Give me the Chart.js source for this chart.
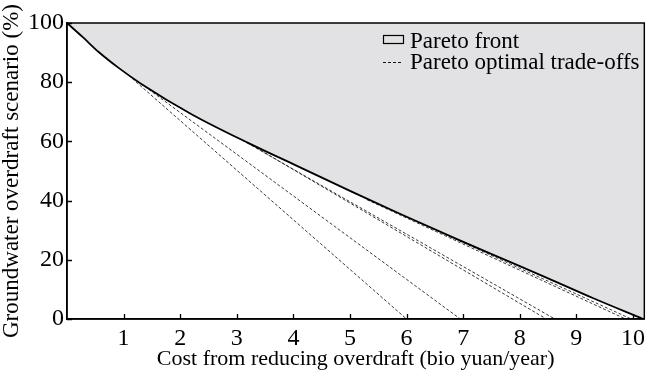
<!DOCTYPE html>
<html>
<head>
<meta charset="utf-8">
<script src="https://cdn.jsdelivr.net/npm/chart.js@4.4.1/dist/chart.umd.min.js"></script>
<style>
html,body{margin:0;padding:0;background:#fff;}
#wrap{width:650px;height:375px;}
</style>
</head>
<body>
<div id="wrap"><canvas id="c" width="650" height="375"></canvas></div>
<script>
// ---- data ----
const frontX = [0, 0.28, 0.56, 0.9, 1.3, 2.2, 3.2, 4.1, 5.0, 5.9, 6.9, 7.7, 8.47, 9.3, 10.18];
const frontY = [100, 95.2, 90.2, 85.0, 79.6, 69.2, 59.5, 51.4, 43.3, 35.4, 26.9, 20.3, 14.0, 7.0, 0];

const tradeStartX = [0.82, 1.3, 3.2, 3.1, 5.3, 5.0];
const tradeStartY = [86.8, 79.6, 59.5, 60.4, 40.3, 43.2];
const tradeEndX   = [6.0, 6.95, 8.47, 8.62, 9.87, 9.97];

const xTickValues = [1,2,3,4,5,6,7,8,9,10];
const yTickValues = [0,20,40,60,80,100];

const legendLabels = ["Pareto front", "Pareto optimal trade-offs"];
const xTitle = "Cost from reducing overdraft (bio yuan/year)";
const yTitle = "Groundwater overdraft scenario (%)";

const FONT = "'Liberation Serif', 'Times New Roman', serif";

// ---- datasets ----
const datasets = [];
tradeStartX.forEach((sx, i) => {
  datasets.push({
    label: 'trade' + i,
    data: [{x: sx, y: tradeStartY[i]}, {x: tradeEndX[i], y: 0}],
    borderColor: '#222',
    borderWidth: 0.9,
    borderDash: [3, 2],
    pointRadius: 0,
    fill: false,
    tension: 0,
    order: 2
  });
});
datasets.push({
  label: 'front',
  data: frontX.map((x, i) => ({x, y: frontY[i]})),
  borderColor: '#000',
  borderWidth: 1.8,
  backgroundColor: '#e2e1e3',
  fill: 'end',
  pointRadius: 0,
  cubicInterpolationMode: 'monotone',
  order: 1
});

// ---- plugins ----
const framePlugin = {
  id: 'frame',
  afterDatasetsDraw(chart) {
    const {ctx, chartArea: a, scales} = chart;
    ctx.save();
    ctx.strokeStyle = '#000';
    ctx.lineWidth = 1.5;
    ctx.strokeRect(a.left, a.top, a.right - a.left, a.bottom - a.top);
    ctx.lineWidth = 1.3;
    ctx.beginPath();
    xTickValues.forEach(v => {
      const px = Math.round(scales.x.getPixelForValue(v)) + 0.5;
      ctx.moveTo(px, a.bottom); ctx.lineTo(px, a.bottom - 5);
    });
    yTickValues.forEach(v => {
      const py = Math.round(scales.y.getPixelForValue(v)) + 0.5;
      ctx.moveTo(a.left, py); ctx.lineTo(a.left + 5, py);
    });
    ctx.stroke();

    // legend
    const lx = 383, b1 = 48, b2 = 68.5;
    ctx.font = '23px ' + FONT;
    ctx.fillStyle = '#000';
    ctx.textBaseline = 'alphabetic';
    ctx.lineWidth = 1.2;
    ctx.strokeRect(lx + 0.5, 35.5, 20, 8);
    ctx.fillText(legendLabels[0], lx + 27, b1);
    ctx.lineWidth = 0.9;
    ctx.setLineDash([3, 2]);
    ctx.beginPath();
    ctx.moveTo(lx, 62.5); ctx.lineTo(lx + 20, 62.5);
    ctx.stroke();
    ctx.setLineDash([]);
    ctx.fillText(legendLabels[1], lx + 27, b2);
    ctx.restore();
  }
};

new Chart(document.getElementById('c'), {
  type: 'line',
  data: {datasets},
  options: {
    responsive: false,
    animation: false,
    layout: {padding: {top: 23, right: 2, left: 0, bottom: 0}},
    plugins: {legend: {display: false}, tooltip: {enabled: false}},
    scales: {
      x: {
        type: 'linear',
        min: 0, max: 10.2,
        afterBuildTicks(s) { s.ticks = xTickValues.map(v => ({value: v})); },
        afterFit(s) { s.height = 56; },
        grid: {display: false, drawTicks: false},
        border: {display: true, color: '#000', width: 1.5},
        ticks: {color: '#000', font: {family: FONT, size: 24}, padding: 5, maxRotation: 0, autoSkip: false},
        title: {display: true, text: xTitle, color: '#000', font: {family: FONT, size: 22}, padding: {top: 0, bottom: 3}}
      },
      y: {
        type: 'linear',
        min: 0, max: 100,
        afterBuildTicks(s) { s.ticks = yTickValues.map(v => ({value: v})); },
        afterFit(s) { s.width = 67; },
        grid: {display: false, drawTicks: false},
        border: {display: true, color: '#000', width: 1.5},
        ticks: {color: '#000', font: {family: FONT, size: 24}, padding: 3},
        title: {display: true, text: yTitle, color: '#000', font: {family: FONT, size: 23, lineHeight: 1.0}, padding: {top: 0, bottom: 0}}
      }
    }
  },
  plugins: [framePlugin]
});
</script>
</body>
</html>
